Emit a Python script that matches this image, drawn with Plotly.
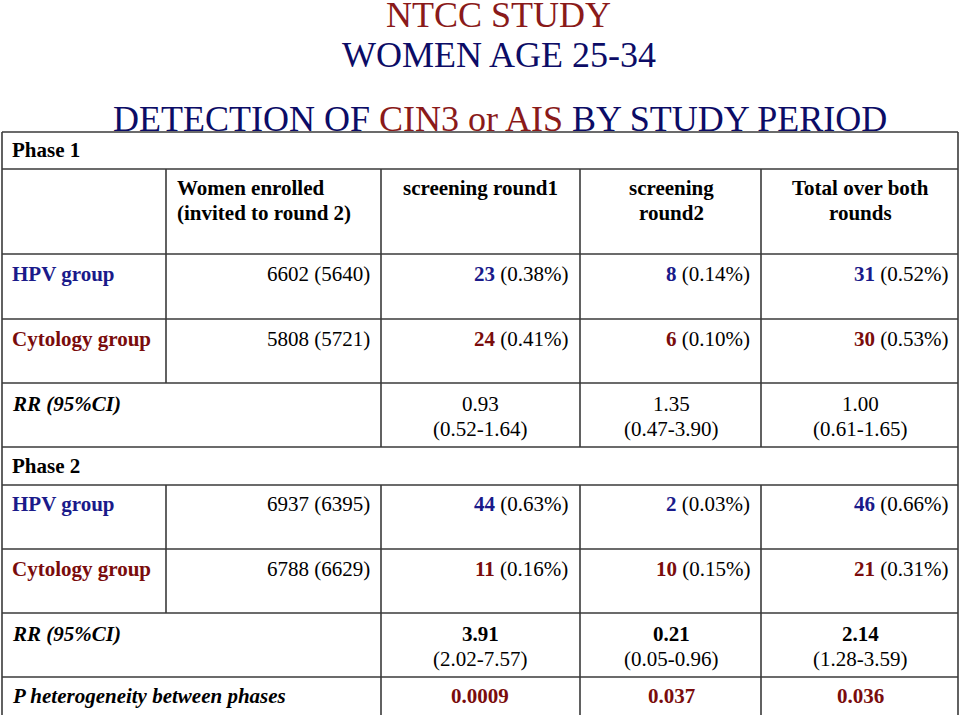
import plotly.graph_objects as go

# --- chart content ---
TITLE_1 = 'NTCC STUDY'
TITLE_2 = 'WOMEN AGE 25-34'
col_headers = [['Women enrolled', '(invited to round 2)'],
               ['screening round1'],
               ['screening', 'round2'],
               ['Total over both', 'rounds']]
groups = ['HPV group', 'Cytology group']

# phase 1
p1_enrolled = ['6602 (5640)', '5808 (5721)']
p1_counts = [[23, 8, 31], [24, 6, 30]]
p1_pct = [['0.38%', '0.14%', '0.52%'], ['0.41%', '0.10%', '0.53%']]
p1_rr = ['0.93', '1.35', '1.00']
p1_ci = ['(0.52-1.64)', '(0.47-3.90)', '(0.61-1.65)']

# phase 2
p2_enrolled = ['6937 (6395)', '6788 (6629)']
p2_counts = [[44, 2, 46], [11, 10, 21]]
p2_pct = [['0.63%', '0.03%', '0.66%'], ['0.16%', '0.15%', '0.31%']]
p2_rr = ['3.91', '0.21', '2.14']
p2_ci = ['(2.02-7.57)', '(0.05-0.96)', '(1.28-3.59)']

p_het = ['0.0009', '0.037', '0.036']

# --- styling ---
FONT = 'Liberation Serif, Times New Roman, serif'
NAVY = '#0c0c66'
DRED = '#8a1a1a'
BLUE = '#1a1a8a'
RED = '#7a0c0c'
LINE = '#3a3a3a'
FS = 21

W, H = 960, 715
X0, X1, X2, X3, X4, X5 = 2, 166, 381, 580, 761, 958
col_right = [370, 568, 750, 948]
col_center = [None, 480, 671, 860]
group_colors = [BLUE, RED]

fig = go.Figure()
ann = []
shapes = []


def txt(x, y, s, color='black', size=FS, xanchor='left'):
    ann.append(dict(x=x, y=y, text=s, showarrow=False, xanchor=xanchor, yanchor='middle',
                    borderpad=0, borderwidth=0,
                    font=dict(family=FONT, size=size, color=color)))


def hline(y, xa=X0, xb=X5):
    shapes.append(dict(type='line', x0=xa, x1=xb, y0=y, y1=y, line=dict(color=LINE, width=1.6)))


def vline(x, ya, yb):
    shapes.append(dict(type='line', x0=x, x1=x, y0=ya, y1=yb, line=dict(color=LINE, width=1.6)))


# titles
txt(498, 15, TITLE_1, DRED, 36, 'center')
txt(499, 55, TITLE_2, NAVY, 36, 'center')
txt(500, 119, f"DETECTION OF <span style='color:{DRED}'>CIN3 or AIS</span> BY STUDY PERIOD",
    NAVY, 36, 'center')

# grid
rows_y = [132, 169, 254, 319, 383, 447, 485, 549, 613, 677]
for y in rows_y:
    hline(y)
vline(X0, 132, H)
vline(X5, 132, H)
for x in (X2, X3, X4):
    vline(x, 169, 447)
    vline(x, 485, H)
vline(X1, 169, 383)
vline(X1, 485, 613)

# phase 1 header
txt(12, 150, '<b>Phase 1</b>')
txt(177, 188, f'<b>{col_headers[0][0]}</b>')
txt(177, 213, f'<b>{col_headers[0][1]}</b>')
for i in (1, 2, 3):
    for j, line in enumerate(col_headers[i]):
        txt(col_center[i], 188 + 25 * j, f'<b>{line}</b>', xanchor='center')


def group_rows(enrolled, counts, pct, ys):
    for g in range(2):
        y = ys[g]
        c = group_colors[g]
        txt(12, y, f'<b>{groups[g]}</b>', c)
        txt(col_right[0], y, enrolled[g], xanchor='right')
        for k in range(3):
            txt(col_right[k + 1], y,
                f"<b><span style='color:{c}'>{counts[g][k]}</span></b> ({pct[g][k]})",
                xanchor='right')


def rr_row(rr, ci, y, bold):
    txt(12, y, '<b><i>RR (95%CI)</i></b>')
    for k in range(3):
        v = f'<b>{rr[k]}</b>' if bold else rr[k]
        txt(col_center[k + 1], y, v, xanchor='center')
        txt(col_center[k + 1], y + 25, ci[k], xanchor='center')


group_rows(p1_enrolled, p1_counts, p1_pct, [274, 339])
rr_row(p1_rr, p1_ci, 404, False)

txt(12, 466, '<b>Phase 2</b>')
group_rows(p2_enrolled, p2_counts, p2_pct, [504, 569])
rr_row(p2_rr, p2_ci, 634, True)

txt(12, 696, '<b><i>P heterogeneity between phases</i></b>')
for k in range(3):
    txt(col_center[k + 1], 696, f'<b>{p_het[k]}</b>', RED, xanchor='center')

fig.update_layout(
    width=W, height=H,
    margin=dict(l=0, r=0, t=0, b=0),
    paper_bgcolor='white', plot_bgcolor='white',
    xaxis=dict(range=[0, W], visible=False, fixedrange=True),
    yaxis=dict(range=[H, 0], visible=False, fixedrange=True),
    annotations=ann, shapes=shapes, showlegend=False,
)
# the page body has a default 8px margin; drop it so the figure fills the window
fig.write_html('out.html', config={'displayModeBar': False},
               post_script="document.body.style.margin='0';document.body.style.overflow='hidden';")
